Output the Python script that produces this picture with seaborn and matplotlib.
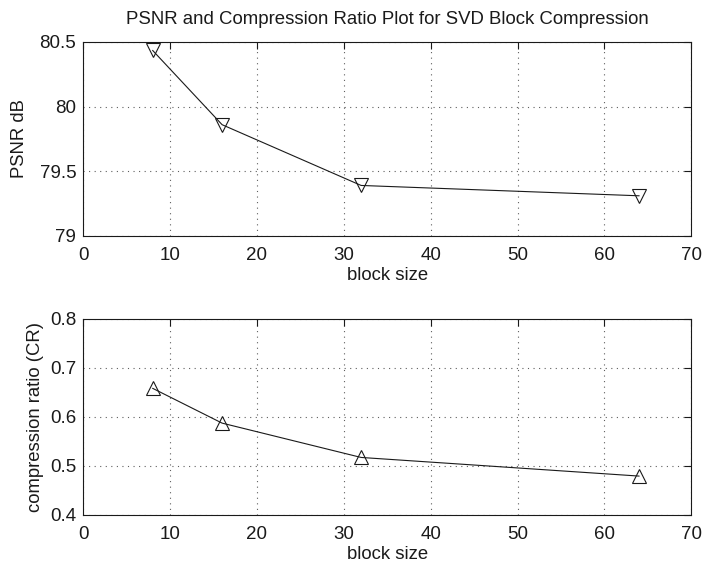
import matplotlib
matplotlib.use("Agg")
import matplotlib.pyplot as plt
import seaborn as sns
import pandas as pd

block_size = [8, 16, 32, 64]
psnr_db = [80.435, 79.86, 79.39, 79.31]
comp_ratio = [0.658, 0.587, 0.517, 0.479]

sns.set_theme(style="white")
plt.rcParams['font.family'] = ['Liberation Sans', 'DejaVu Sans']
plt.rcParams.update({'text.color': 'k', 'axes.labelcolor': 'k',
                     'xtick.color': 'k', 'ytick.color': 'k'})

df = pd.DataFrame({'block': block_size, 'psnr': psnr_db, 'cr': comp_ratio})

fig = plt.figure(figsize=(7.04, 5.67), dpi=100)
ax1 = fig.add_axes([0.118, 0.584, 0.864, 0.342])
ax2 = fig.add_axes([0.118, 0.092, 0.864, 0.346])


def style_axis(ax, yticks, ylabel, ypad):
    ax.set_xlim(0, 70)
    ax.set_xticks(range(0, 71, 10))
    ax.set_ylim(yticks[0], yticks[-1])
    ax.set_yticks(yticks)
    ax.grid(True, linestyle=(0, (1, 4)), color='k', linewidth=0.8, alpha=0.7)
    ax.tick_params(direction='in', top=True, right=True, length=5,
                   width=0.8, labelsize=13.5, color='k', labelcolor='k')
    ax.tick_params(axis='x', pad=8)
    ax.tick_params(axis='y', pad=5)
    for s in ax.spines.values():
        s.set_color('k')
        s.set_linewidth(0.8)
    ax.set_xlabel('block size', fontsize=13.3, labelpad=2, color='k')
    ax.set_ylabel(ylabel, fontsize=13.3, labelpad=ypad, color='k')


sns.lineplot(data=df, x='block', y='psnr', ax=ax1, color='k', linewidth=0.8,
             marker='v', markersize=10, markerfacecolor='none',
             markeredgecolor='k', markeredgewidth=0.8)
style_axis(ax1, [79, 79.5, 80, 80.5], 'PSNR dB', 8)
ax1.set_yticklabels(['79', '79.5', '80', '80.5'])
ax1.set_title('PSNR and Compression Ratio Plot for SVD Block Compression',
              fontsize=13.4, pad=13, color='k')

sns.lineplot(data=df, x='block', y='cr', ax=ax2, color='k', linewidth=0.8,
             marker='^', markersize=10, markerfacecolor='none',
             markeredgecolor='k', markeredgewidth=0.8)
style_axis(ax2, [0.4, 0.5, 0.6, 0.7, 0.8], 'compression ratio (CR)', 4)

fig.savefig('out.png', dpi=100, facecolor='white')
